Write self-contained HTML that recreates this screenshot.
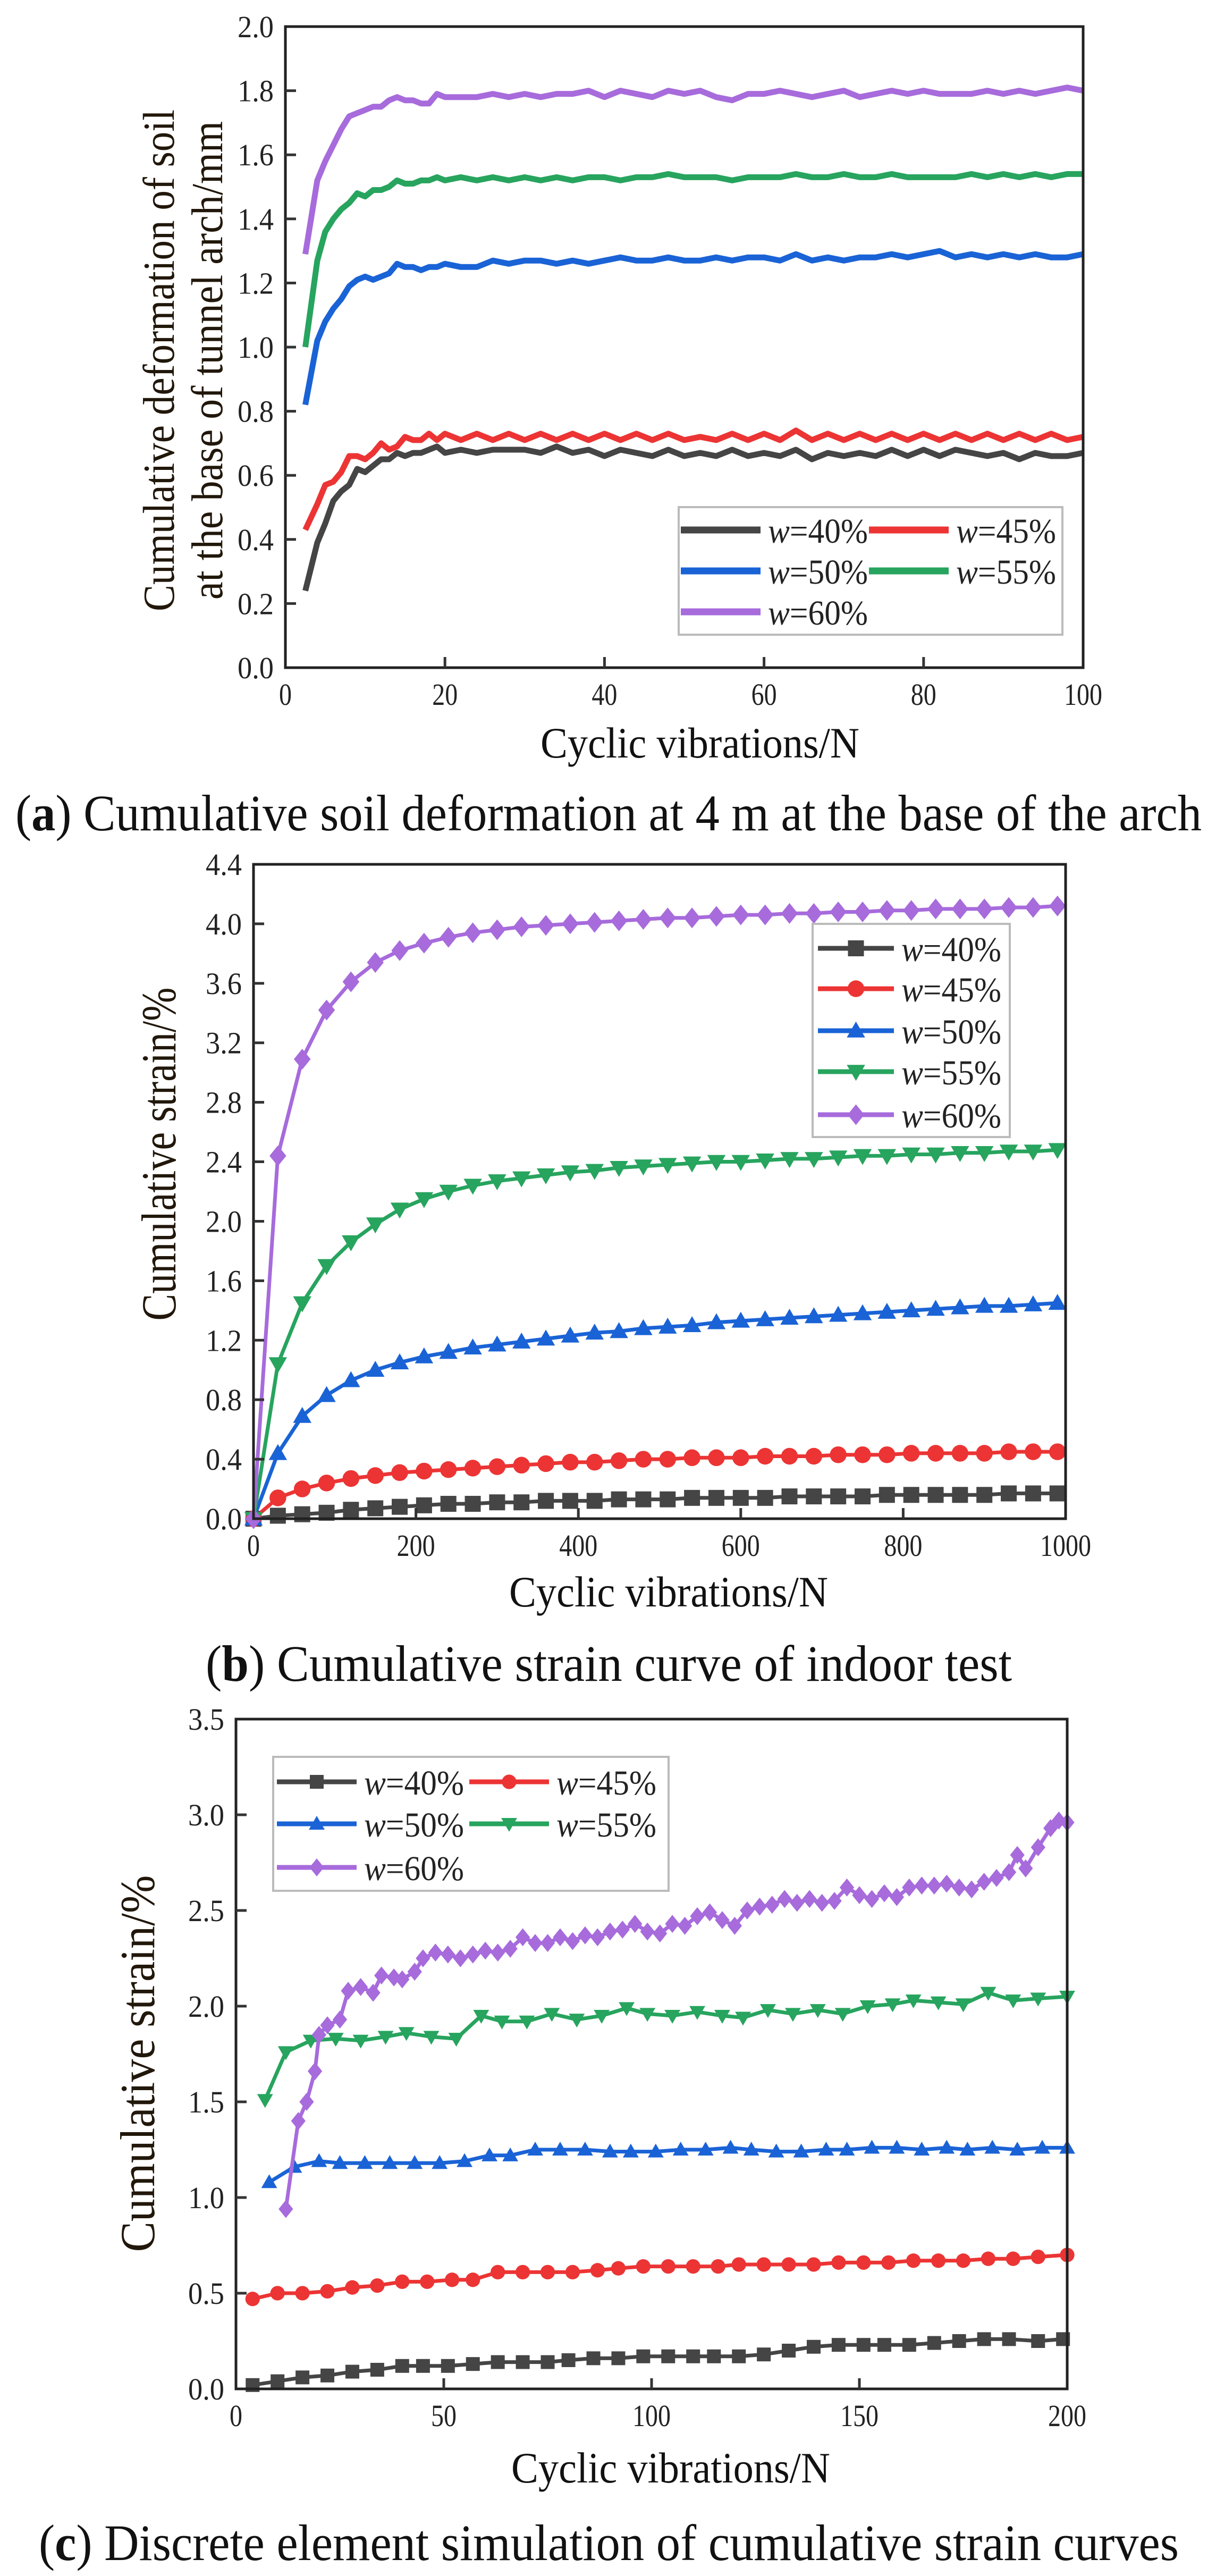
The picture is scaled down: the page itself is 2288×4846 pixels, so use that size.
<!DOCTYPE html>
<html><head><meta charset="utf-8"><style>
html,body{margin:0;padding:0;background:#fff;}
svg{display:block;font-family:"Liberation Serif",serif;}
</style></head><body>
<svg id="fig" width="2288" height="4846" viewBox="0 0 2288 4846" xmlns="http://www.w3.org/2000/svg"></svg>
<script>
// ---------- Panel A data ----------
const aN = [2.5,4,5,6,7,8,9,10,11,12,13,14,15,16,17,18,19,20,22,24,26,28,30,32,34,36,38,40,42,44,46,48,50,52,54,56,58,60,62,64,66,68,70,72,74,76,78,80,82,84,86,88,90,92,94,96,98,100];
const a40 = [0.24,0.39,0.45,0.52,0.55,0.57,0.62,0.61,0.63,0.65,0.65,0.67,0.66,0.67,0.67,0.68,0.69,0.67,0.68,0.67,0.68,0.68,0.68,0.67,0.69,0.67,0.68,0.66,0.68,0.67,0.66,0.68,0.66,0.67,0.66,0.68,0.66,0.67,0.66,0.68,0.65,0.67,0.66,0.67,0.66,0.68,0.66,0.68,0.66,0.68,0.67,0.66,0.67,0.65,0.67,0.66,0.66,0.67];
const a45 = [0.43,0.51,0.57,0.58,0.61,0.66,0.66,0.65,0.67,0.70,0.68,0.69,0.72,0.71,0.71,0.73,0.71,0.73,0.71,0.73,0.71,0.73,0.71,0.73,0.71,0.73,0.71,0.73,0.71,0.73,0.71,0.73,0.71,0.72,0.71,0.73,0.71,0.73,0.71,0.74,0.71,0.73,0.71,0.73,0.71,0.73,0.71,0.73,0.71,0.73,0.71,0.73,0.71,0.73,0.71,0.73,0.71,0.72];
const a50 = [0.82,1.02,1.08,1.12,1.15,1.19,1.21,1.22,1.21,1.22,1.23,1.26,1.25,1.25,1.24,1.25,1.25,1.26,1.25,1.25,1.27,1.26,1.27,1.27,1.26,1.27,1.26,1.27,1.28,1.27,1.27,1.28,1.27,1.27,1.28,1.27,1.28,1.28,1.27,1.29,1.27,1.28,1.27,1.28,1.28,1.29,1.28,1.29,1.30,1.28,1.29,1.28,1.29,1.28,1.29,1.28,1.28,1.29];
const a55 = [1.00,1.27,1.36,1.40,1.43,1.45,1.48,1.47,1.49,1.49,1.50,1.52,1.51,1.51,1.52,1.52,1.53,1.52,1.53,1.52,1.53,1.52,1.53,1.52,1.53,1.52,1.53,1.53,1.52,1.53,1.53,1.54,1.53,1.53,1.53,1.52,1.53,1.53,1.53,1.54,1.53,1.53,1.54,1.53,1.53,1.54,1.53,1.53,1.53,1.53,1.54,1.53,1.54,1.53,1.54,1.53,1.54,1.54];
const a60 = [1.29,1.52,1.58,1.63,1.68,1.72,1.73,1.74,1.75,1.75,1.77,1.78,1.77,1.77,1.76,1.76,1.79,1.78,1.78,1.78,1.79,1.78,1.79,1.78,1.79,1.79,1.80,1.78,1.80,1.79,1.78,1.80,1.79,1.80,1.78,1.77,1.79,1.79,1.80,1.79,1.78,1.79,1.80,1.78,1.79,1.80,1.79,1.80,1.79,1.79,1.79,1.80,1.79,1.80,1.79,1.80,1.81,1.80];
const aYTicks = ["0.0","0.2","0.4","0.6","0.8","1.0","1.2","1.4","1.6","1.8","2.0"];
const aXTicks = ["0","20","40","60","80","100"];

// ---------- Panel B data ----------
const bN = [0,30,60,90,120,150,180,210,240,270,300,330,360,390,420,450,480,510,540,570,600,630,660,690,720,750,780,810,840,870,900,930,960,990];
const b40 = [0,0.02,0.03,0.04,0.06,0.07,0.08,0.09,0.10,0.10,0.11,0.11,0.12,0.12,0.12,0.13,0.13,0.13,0.14,0.14,0.14,0.14,0.15,0.15,0.15,0.15,0.16,0.16,0.16,0.16,0.16,0.17,0.17,0.17];
const b45 = [0,0.14,0.20,0.24,0.27,0.29,0.31,0.32,0.33,0.34,0.35,0.36,0.37,0.38,0.38,0.39,0.40,0.40,0.41,0.41,0.41,0.42,0.42,0.42,0.43,0.43,0.43,0.44,0.44,0.44,0.44,0.45,0.45,0.45];
const b50 = [0,0.44,0.69,0.83,0.93,1.00,1.05,1.09,1.12,1.15,1.17,1.19,1.21,1.23,1.25,1.26,1.28,1.29,1.30,1.32,1.33,1.34,1.35,1.36,1.37,1.38,1.39,1.40,1.41,1.42,1.43,1.43,1.44,1.45];
const b55 = [0,1.04,1.45,1.70,1.86,1.98,2.08,2.15,2.20,2.24,2.27,2.29,2.31,2.33,2.34,2.36,2.37,2.38,2.39,2.40,2.40,2.41,2.42,2.42,2.43,2.44,2.44,2.45,2.45,2.46,2.46,2.47,2.47,2.48];
const b60 = [0,2.44,3.09,3.42,3.61,3.74,3.82,3.87,3.91,3.94,3.96,3.98,3.99,4.00,4.01,4.02,4.03,4.04,4.04,4.05,4.06,4.06,4.07,4.07,4.08,4.08,4.09,4.09,4.10,4.10,4.10,4.11,4.11,4.12];
const bYTicks = ["0.0","0.4","0.8","1.2","1.6","2.0","2.4","2.8","3.2","3.6","4.0","4.4"];
const bXTicks = ["0","200","400","600","800","1000"];

// ---------- Panel C data ----------
const c40N = [4,10,16,22,28,34,40,45,51,57,63,69,75,80,86,92,98,104,110,115,121,127,133,139,145,151,156,162,168,174,180,186,193,199];
const c40 = [0.02,0.04,0.06,0.07,0.09,0.10,0.12,0.12,0.12,0.13,0.14,0.14,0.14,0.15,0.16,0.16,0.17,0.17,0.17,0.17,0.17,0.18,0.20,0.22,0.23,0.23,0.23,0.23,0.24,0.25,0.26,0.26,0.25,0.26];
const c45N = [4,10,16,22,28,34,40,46,52,57,63,69,75,81,87,92,98,104,110,116,121,127,133,139,145,151,157,163,169,175,181,187,193,200];
const c45 = [0.47,0.50,0.50,0.51,0.53,0.54,0.56,0.56,0.57,0.57,0.61,0.61,0.61,0.61,0.62,0.63,0.64,0.64,0.64,0.64,0.65,0.65,0.65,0.65,0.66,0.66,0.66,0.67,0.67,0.67,0.68,0.68,0.69,0.70];
const c50N = [8,14,20,25,31,37,43,49,55,61,66,72,78,84,90,95,101,107,113,119,124,130,136,142,147,153,159,165,171,176,182,188,194,200];
const c50 = [1.08,1.16,1.19,1.18,1.18,1.18,1.18,1.18,1.19,1.22,1.22,1.25,1.25,1.25,1.24,1.24,1.24,1.25,1.25,1.26,1.25,1.24,1.24,1.25,1.25,1.26,1.26,1.25,1.26,1.25,1.26,1.25,1.26,1.26];
const c55N = [7,12,18,24,30,36,41,47,53,59,64,70,76,82,88,94,99,105,111,117,122,128,134,140,146,152,158,163,169,175,181,187,193,200];
const c55 = [1.51,1.76,1.82,1.83,1.82,1.84,1.86,1.84,1.83,1.95,1.92,1.92,1.96,1.93,1.95,1.99,1.96,1.95,1.97,1.95,1.94,1.98,1.96,1.98,1.96,2.00,2.01,2.03,2.02,2.01,2.07,2.03,2.04,2.05];
const c60N = [12,15,17,19,20,22,25,27,30,33,35,38,40,43,45,48,51,54,57,60,63,66,69,72,75,78,81,84,87,90,93,96,99,102,105,108,111,114,117,120,123,126,129,132,135,138,141,144,147,150,153,156,159,162,165,168,171,174,177,180,183,186,188,190,193,196,198,200];
const c60 = [0.94,1.40,1.50,1.66,1.85,1.90,1.93,2.08,2.10,2.07,2.16,2.15,2.14,2.18,2.25,2.28,2.27,2.25,2.27,2.29,2.28,2.30,2.36,2.33,2.33,2.36,2.34,2.37,2.36,2.39,2.40,2.43,2.39,2.38,2.43,2.42,2.47,2.49,2.45,2.42,2.50,2.52,2.53,2.56,2.54,2.56,2.54,2.55,2.62,2.58,2.56,2.59,2.57,2.62,2.63,2.63,2.64,2.62,2.61,2.65,2.67,2.70,2.79,2.72,2.83,2.93,2.97,2.96];
const cYTicks = ["0.0","0.5","1.0","1.5","2.0","2.5","3.0","3.5"];
const cXTicks = ["0","50","100","150","200"];

const COL = {k:"#454545", r:"#ec3434", b:"#1a63d6", g:"#27a45e", p:"#a76bdc"};
const NS = "http://www.w3.org/2000/svg";
const svg = document.getElementById("fig");
function mk(tag, attrs, parent, text){
  const e = document.createElementNS(NS, tag);
  for (const k in attrs) e.setAttribute(k, attrs[k]);
  if (text !== undefined) e.textContent = text;
  (parent || svg).appendChild(e);
  return e;
}
function marker(g, type, x, y, s, color){
  let m;
  if (type === "sq") m = mk("rect",{x:x-s,y:y-s,width:2*s,height:2*s,fill:color},g);
  else if (type === "ci") m = mk("circle",{cx:x,cy:y,r:s*1.05,fill:color},g);
  else if (type === "tu") m = mk("polygon",{points:`${x},${y-s*1.15} ${x+s*1.15},${y+s*0.85} ${x-s*1.15},${y+s*0.85}`,fill:color},g);
  else if (type === "td") m = mk("polygon",{points:`${x},${y+s*1.15} ${x+s*1.15},${y-s*0.85} ${x-s*1.15},${y-s*0.85}`,fill:color},g);
  else m = mk("polygon",{points:`${x},${y-s*1.3} ${x+s*1.05},${y} ${x},${y+s*1.3} ${x-s*1.05},${y}`,fill:color},g);
  
  
}

function panel(cfg){
  const g = mk("g",{});
  
  
  const {L,R,T,B,xmax,ymax} = cfg;
  const sx = v => L + (v/xmax)*(R-L);
  const sy = v => B - (v/ymax)*(B-T);
  cfg.series.forEach(s=>{
    const sg = mk("g",{},g);
    
    
    const pts = s.x.map((n,i)=>`${sx(n).toFixed(1)},${sy(s.y[i]).toFixed(1)}`).join(" ");
    const pl = mk("polyline",{points:pts,fill:"none",stroke:s.c,"stroke-width":cfg.lw,"stroke-linejoin":"round"},sg);
    
    
    if (s.m) s.x.forEach((n,i)=>marker(sg, s.m, sx(n), sy(s.y[i]), cfg.ms, s.c));
  });
  const fr = mk("rect",{x:L,y:T,width:R-L,height:B-T,fill:"none",stroke:"#222","stroke-width":5},g);
  
  
  cfg.yt.forEach((t,i)=>{
    const v = parseFloat(t), y = sy(v);
    if (i>0 && i<cfg.yt.length-1) mk("line",{x1:L,x2:L+20,y1:y,y2:y,stroke:"#333","stroke-width":5},g);
    const tx = mk("text",{x:L-22,y:y+20,"text-anchor":"end","font-size":58,fill:"#222",textLength:68,lengthAdjust:"spacingAndGlyphs"},g,t);
    
    
  });
  cfg.xt.forEach((t,i)=>{
    const v = parseFloat(t), x = sx(v);
    if (i>0 && i<cfg.xt.length-1) mk("line",{x1:x,x2:x,y1:B,y2:B-20,stroke:"#333","stroke-width":5},g);
    const tx = mk("text",{x:x,y:B+70,"text-anchor":"middle","font-size":58,fill:"#222",textLength:24*t.length,lengthAdjust:"spacingAndGlyphs"},g,t);
    
    
  });
  const xt = mk("text",{x:cfg.xlx,y:cfg.xly,"text-anchor":"middle","font-size":82,fill:"#111",textLength:600,lengthAdjust:"spacingAndGlyphs"},g,"Cyclic vibrations/N");
  
  
  cfg.ylab.forEach((l,i)=>{
    const yt = mk("text",{transform:`translate(${l.x},${cfg.ylc}) rotate(-90)`,"text-anchor":"middle","font-size":cfg.yfs,fill:"#21170a",textLength:l.len,lengthAdjust:"spacingAndGlyphs"},g,l.t);
    
    
  });
  const lg = mk("g",{},g);
  
  
  const lb = cfg.leg;
  mk("rect",{x:lb.x,y:lb.y,width:lb.w,height:lb.h,fill:"#fff",stroke:"#bbb","stroke-width":4},lg);
  cfg.series.forEach((s,i)=>{
    const p = lb.pos[i];
    const e = mk("g",{},lg);
    
    
    mk("line",{x1:p[0],x2:p[0]+lb.lineLen,y1:p[1],y2:p[1],stroke:s.c,"stroke-width":cfg.lw+2},e);
    if (s.m) marker(e, s.m, p[0]+lb.lineLen/2, p[1], cfg.ms, s.c);
    const t = mk("text",{x:p[0]+lb.lineLen+14,y:p[1]+24,"font-size":66,fill:"#222",textLength:188,lengthAdjust:"spacingAndGlyphs"},e);
    mk("tspan",{"font-style":"italic"},t,"w");
    mk("tspan",{},t,"=" + s.label);
  });
  return g;
}

panel({name:"panel-a-chart",L:537,R:2038,T:50,B:1256,xmax:100,ymax:2.0,lw:11,ms:0,
  yt:aYTicks, xt:aXTicks, xlx:1317, xly:1425, ylc:678, yfs:84,
  ylab:[{x:327,t:"Cumulative deformation of soil",len:944},{x:418,t:"at the base of tunnel arch/mm",len:900}],
  leg:{x:1277,y:954,w:722,h:240,lineLen:150,pos:[[1281,997],[1635,997],[1281,1074],[1635,1074],[1281,1151]]},
  series:[{name:"series-w40",x:aN,y:a40,c:COL.k,label:"40%"},{name:"series-w45",x:aN,y:a45,c:COL.r,label:"45%"},
          {name:"series-w50",x:aN,y:a50,c:COL.b,label:"50%"},{name:"series-w55",x:aN,y:a55,c:COL.g,label:"55%"},
          {name:"series-w60",x:aN,y:a60,c:COL.p,label:"60%"}]});

panel({name:"panel-b-chart",L:477,R:2005,T:1626,B:2857,xmax:1000,ymax:4.4,lw:7,ms:15,
  yt:bYTicks, xt:bXTicks, xlx:1258, xly:3022, ylc:2171, yfs:92,
  ylab:[{x:330,t:"Cumulative strain/%",len:627}],
  leg:{x:1529,y:1738,w:371,h:401,lineLen:143,pos:[[1539,1784],[1539,1860],[1539,1939],[1539,2016],[1539,2097]]},
  series:[{name:"series-w40",x:bN,y:b40,c:COL.k,m:"sq",label:"40%"},{name:"series-w45",x:bN,y:b45,c:COL.r,m:"ci",label:"45%"},
          {name:"series-w50",x:bN,y:b50,c:COL.b,m:"tu",label:"50%"},{name:"series-w55",x:bN,y:b55,c:COL.g,m:"td",label:"55%"},
          {name:"series-w60",x:bN,y:b60,c:COL.p,m:"di",label:"60%"}]});

panel({name:"panel-c-chart",L:444,R:2008,T:3234,B:4494,xmax:200,ymax:3.5,lw:7,ms:13,
  yt:cYTicks, xt:cXTicks, xlx:1262, xly:4670, ylc:3882, yfs:92,
  ylab:[{x:290,t:"Cumulative strain/%",len:709}],
  leg:{x:514,y:3305,w:744,h:252,lineLen:150,pos:[[521,3352],[883,3352],[521,3431],[883,3431],[521,3513]]},
  series:[{name:"series-w40",x:c40N,y:c40,c:COL.k,m:"sq",label:"40%"},{name:"series-w45",x:c45N,y:c45,c:COL.r,m:"ci",label:"45%"},
          {name:"series-w50",x:c50N,y:c50,c:COL.b,m:"tu",label:"50%"},{name:"series-w55",x:c55N,y:c55,c:COL.g,m:"td",label:"55%"},
          {name:"series-w60",x:c60N,y:c60,c:COL.p,m:"di",label:"60%"}]});

function caption(x,y,len,letter,rest,name){
  const t = mk("text",{x:x,y:y,"font-size":96,fill:"#111",textLength:len,lengthAdjust:"spacingAndGlyphs"});
  
  
  mk("tspan",{},t,"(");
  mk("tspan",{"font-weight":"bold"},t,letter);
  mk("tspan",{},t,") " + rest);
}
caption(29,1562,2232,"a","Cumulative soil deformation at 4 m at the base of the arch","caption-a");
caption(387,3162,1517,"b","Cumulative strain curve of indoor test","caption-b");
caption(73,4816,2145,"c","Discrete element simulation of cumulative strain curves","caption-c");
</script>
</body></html>
